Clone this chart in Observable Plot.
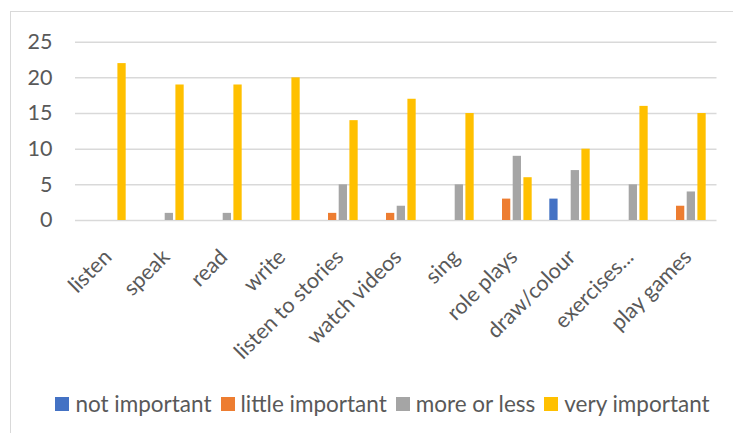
<!DOCTYPE html>
<html>
<head>
<meta charset="utf-8">
<script src="https://cdn.jsdelivr.net/npm/d3@7"></script>
<script src="https://cdn.jsdelivr.net/npm/@observablehq/plot@0.6"></script>
<style>
  html, body { margin: 0; padding: 0; background: #fff; }
  #wrap { position: relative; width: 733px; height: 433px; overflow: hidden; font-family: Lato, "Open Sans", sans-serif; }
  #frame { position: absolute; left: 10px; top: 11px; width: 800px; height: 500px; border: 1.5px solid #d9d9d9; box-sizing: border-box; }
  #chart { position: absolute; left: 0; top: 0; }
  #legend { position: absolute; left: 0; top: 390px; width: 765px; display: flex; justify-content: center; align-items: center; gap: 9px; color: #595959; font-size: 22.5px; line-height: 28px; }
  .item { display: flex; align-items: center; gap: 6px; white-space: nowrap; }
  .sw { width: 14px; height: 14px; display: inline-block; }
</style>
</head>
<body>
<div id="wrap">
  <div id="frame"></div>
  <div id="chart"></div>
  <div id="legend"></div>
</div>
<script>
const categories = ["listen", "speak", "read", "write", "listen to stories", "watch videos", "sing", "role plays", "draw/colour", "exercises...", "play games"];
const seriesNames = ["not important", "little important", "more or less", "very important"];
const seriesColors = ["#4472C4", "#ED7D31", "#A5A5A5", "#FFC000"];
const notImportant    = [0, 0, 0, 0, 0, 0, 0, 0, 3, 0, 0];
const littleImportant = [0, 0, 0, 0, 1, 1, 0, 3, 0, 0, 2];
const moreOrLess      = [0, 1, 1, 0, 5, 2, 5, 9, 7, 5, 4];
const veryImportant   = [22, 19, 19, 20, 14, 17, 15, 6, 10, 16, 15];
const yTicks = [0, 5, 10, 15, 20, 25];

const seriesValues = [notImportant, littleImportant, moreOrLess, veryImportant];
const rows = [];
seriesValues.forEach((vals, s) => vals.forEach((v, i) => rows.push({category: categories[i], series: seriesNames[s], s, value: v})));

const W = 733, H = 380;
const mL = 75, mR = 16.5, mT = 41.7, mB = H - 220;
const band = (W - mL - mR) / categories.length;
const barW = 8.6, step = 10.7, firstInset = 8.3;

const barMarks = seriesNames.map((name, s) => {
  const left = firstInset + s * step;
  return Plot.barY(rows.filter(d => d.s === s && d.value > 0), {
    x: "category", y: "value", fill: seriesColors[s],
    insetLeft: left, insetRight: band - left - barW
  });
});

const chart = Plot.plot({
  width: W, height: H,
  marginLeft: mL, marginRight: mR, marginTop: mT, marginBottom: mB,
  style: {fontFamily: "Lato, 'Open Sans', sans-serif", fontSize: "21px", color: "#595959", background: "transparent", overflow: "visible"},
  x: {domain: categories, padding: 0, axis: null},
  y: {domain: [0, 25], axis: null},
  marks: [
    Plot.ruleY(yTicks, {stroke: "#d9d9d9", strokeWidth: 1.5}),
    ...barMarks,
    Plot.axisY(yTicks, {tickSize: 0, tickPadding: 23, fill: "#595959", fontSize: 21.5, label: null}),
    Plot.text(categories, {x: d => d, frameAnchor: "bottom", rotate: -45, textAnchor: "end", lineAnchor: "middle", dx: 1.5, dy: 33, fill: "#595959", fontSize: 21.5})
  ]
});
document.getElementById("chart").appendChild(chart);

const legend = document.getElementById("legend");
seriesNames.forEach((name, s) => {
  const it = document.createElement("div");
  it.className = "item";
  const sw = document.createElement("span");
  sw.className = "sw";
  sw.style.background = seriesColors[s];
  const tx = document.createElement("span");
  tx.textContent = name;
  it.appendChild(sw); it.appendChild(tx);
  legend.appendChild(it);
});
</script>
</body>
</html>
